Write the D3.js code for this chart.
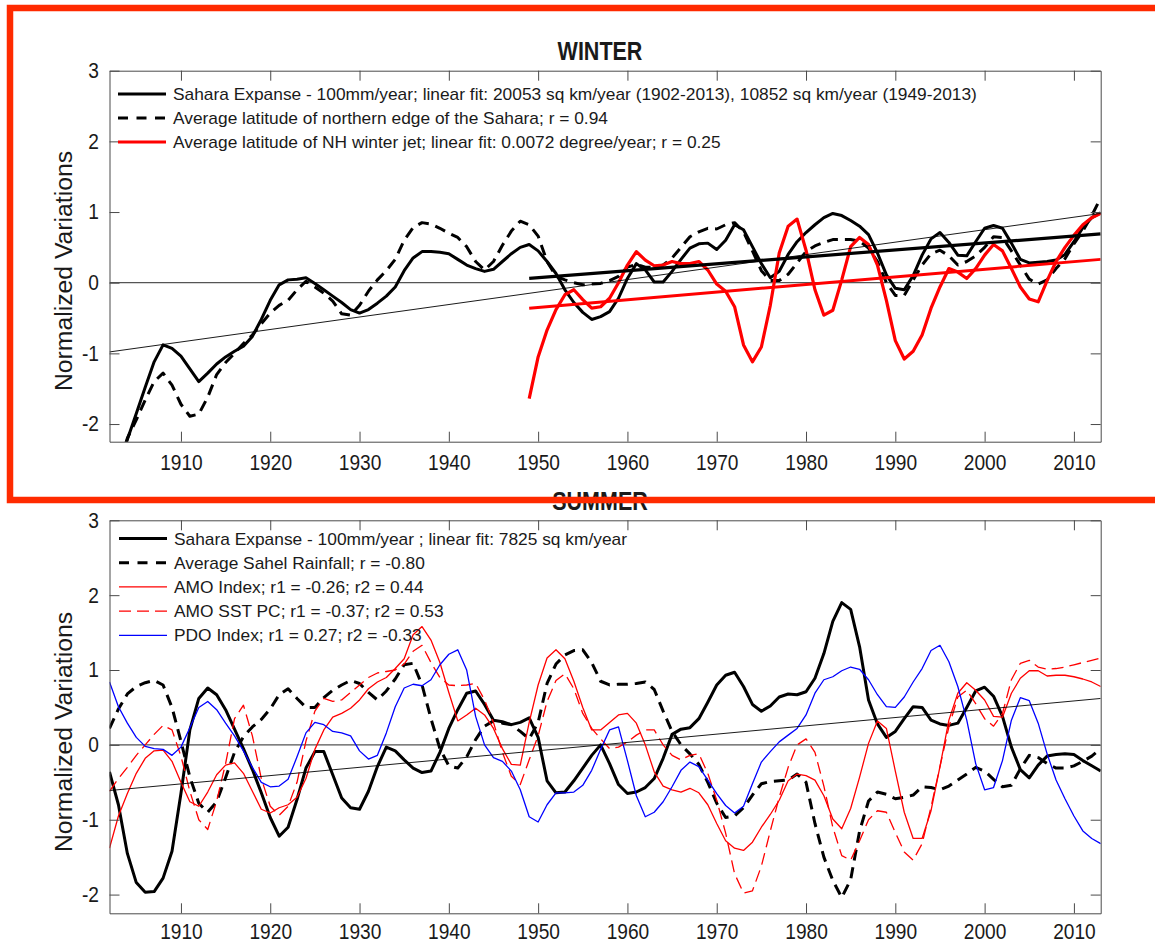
<!DOCTYPE html>
<html>
<head>
<meta charset="utf-8">
<script src="https://cdn.jsdelivr.net/npm/d3@7"></script>
<style>
  body { margin: 0; background: #fff; }
  svg text { font-family: "Liberation Sans", Arial, Helvetica, sans-serif; fill: #1a1a1a; }
</style>
</head>
<body>
<svg id="chart" width="1155" height="945"></svg>
<script>
// years 1902-2013, jet index only from 1949
const years = d3.range(1902, 2014);
const jetYears = d3.range(1949, 2014);
const xTicks = [1910, 1920, 1930, 1940, 1950, 1960, 1970, 1980, 1990, 2000, 2010];
const yTicks = [-2, -1, 0, 1, 2, 3];

// WINTER
const winterSahara = [
  -3.1, -2.65, -2.22, -1.85, -1.48, -1.12, -0.88, -0.93, -1.04, -1.22,
  -1.4, -1.28, -1.15, -1.05, -0.97, -0.9, -0.76, -0.52, -0.25, -0.03,
  0.04, 0.05, 0.07, -0.01, -0.1, -0.19, -0.28, -0.38, -0.43, -0.38,
  -0.29, -0.19, -0.06, 0.17, 0.35, 0.44, 0.44, 0.43, 0.41, 0.33,
  0.25, 0.2, 0.16, 0.19, 0.3, 0.41, 0.5, 0.54, 0.45, 0.3,
  0.13, -0.1, -0.28, -0.42, -0.52, -0.48, -0.41, -0.22, 0.06, 0.27,
  0.18, 0.01, 0.01, 0.16, 0.33, 0.49, 0.55, 0.56, 0.47, 0.6,
  0.82, 0.75, 0.51, 0.27, 0.07, 0.16, 0.4, 0.58, 0.71, 0.82,
  0.92, 0.98, 0.95, 0.88, 0.8, 0.68, 0.42, 0.11, -0.08, -0.1,
  0.1, 0.39, 0.62, 0.71, 0.57, 0.39, 0.38, 0.58, 0.77, 0.81,
  0.77, 0.56, 0.33, 0.28, 0.29, 0.3, 0.32, 0.4, 0.58, 0.78,
  0.92, 0.99
];
const winterEdge = [
  -3.0, -2.6, -2.2, -1.94, -1.66, -1.4, -1.28, -1.45, -1.72, -1.89,
  -1.86, -1.62, -1.3, -1.13, -1.0, -0.86, -0.74, -0.58, -0.43, -0.32,
  -0.25, -0.1, 0.02, -0.06, -0.15, -0.26, -0.44, -0.46, -0.32, -0.12,
  0.04, 0.17, 0.33, 0.6, 0.78, 0.85, 0.83, 0.77, 0.7, 0.64,
  0.51, 0.3, 0.18, 0.3, 0.53, 0.73, 0.87, 0.82, 0.66, 0.3,
  0.09, 0.04, 0.0, -0.03, -0.02, -0.01, 0.03, 0.09, 0.22, 0.26,
  0.22, 0.22, 0.25, 0.35, 0.5, 0.65, 0.72, 0.77, 0.76, 0.82,
  0.85, 0.72, 0.45, 0.17, 0.03, 0.03, 0.12, 0.28, 0.44, 0.52,
  0.57, 0.61, 0.61, 0.61, 0.59, 0.49, 0.3, 0.0, -0.18, -0.18,
  0.04, 0.25, 0.41, 0.46, 0.38, 0.25, 0.3, 0.38, 0.5, 0.65,
  0.64, 0.45, 0.25, 0.05, -0.02, 0.04, 0.2, 0.34, 0.55, 0.73,
  0.95, 1.2
];
const winterJet = [
  -1.64, -1.05, -0.67, -0.38, -0.17, -0.1, -0.24, -0.36, -0.34, -0.22,
  0.0, 0.25, 0.44, 0.32, 0.24, 0.25, 0.3, 0.27, 0.27, 0.3,
  0.18, -0.02, -0.12, -0.34, -0.88, -1.12, -0.91, -0.32, 0.42, 0.8,
  0.9, 0.46, -0.1, -0.46, -0.39, 0.04, 0.51, 0.64, 0.54, 0.25,
  -0.25, -0.82, -1.08, -0.97, -0.74, -0.36, -0.06, 0.2, 0.15, 0.06,
  0.2, 0.39, 0.54, 0.45, 0.2, -0.06, -0.23, -0.27, 0.03, 0.3,
  0.5, 0.67, 0.82, 0.92, 0.98
];
const winterFitFull = [[1902, -0.98], [2013, 0.98]];
const winterFitRecent = [[1949, 0.06], [2013, 0.69]];
const winterJetFit = [[1949, -0.36], [2013, 0.33]];
const winterLegend = [
  "Sahara Expanse - 100mm/year; linear fit: 20053 sq km/year (1902-2013), 10852 sq km/year (1949-2013)",
  "Average latitude of northern edge of the Sahara; r = 0.94",
  "Average latitude of NH winter jet; linear fit: 0.0072 degree/year; r = 0.25"
];

// SUMMER
const summerSahara = [
  -0.36, -0.8, -1.45, -1.84, -1.97, -1.96, -1.78, -1.42, -0.65, 0.2,
  0.62, 0.76, 0.67, 0.47, 0.21, -0.05, -0.33, -0.64, -0.97, -1.22,
  -1.1, -0.73, -0.31, -0.09, -0.09, -0.4, -0.71, -0.84, -0.86, -0.62,
  -0.29, -0.03, -0.08, -0.2, -0.31, -0.37, -0.35, -0.1, 0.22, 0.47,
  0.69, 0.72, 0.54, 0.33, 0.31, 0.27, 0.3, 0.36, 0.1, -0.48,
  -0.64, -0.63, -0.48, -0.31, -0.14, 0.0, -0.25, -0.53, -0.65, -0.63,
  -0.57, -0.45, -0.18, 0.14, 0.21, 0.23, 0.35, 0.57, 0.8, 0.93,
  0.97, 0.78, 0.54, 0.45, 0.52, 0.64, 0.68, 0.67, 0.71, 0.89,
  1.22, 1.65, 1.9, 1.81, 1.31, 0.6, 0.28, 0.1, 0.18, 0.35,
  0.51, 0.5, 0.33, 0.28, 0.26, 0.29, 0.5, 0.72, 0.77, 0.65,
  0.38, -0.03, -0.33, -0.44, -0.27, -0.15, -0.13, -0.12, -0.13, -0.21,
  -0.28, -0.35
];
const summerSahel = [
  0.22, 0.48, 0.68, 0.78, 0.83, 0.86, 0.8, 0.5, 0.05, -0.43,
  -0.78, -0.9, -0.76, -0.44, -0.1, 0.11, 0.24, 0.34, 0.48, 0.67,
  0.75, 0.62, 0.5, 0.5, 0.63, 0.73, 0.8, 0.86, 0.82, 0.7,
  0.6, 0.72, 0.88, 1.07, 1.09, 0.8, 0.35, -0.05, -0.28, -0.31,
  -0.16, 0.07, 0.25, 0.32, 0.29, 0.27, 0.18, 0.08, 0.3, 0.82,
  1.08, 1.2, 1.26, 1.27, 1.1, 0.85, 0.8, 0.81, 0.81, 0.82,
  0.84, 0.74, 0.45, 0.18, 0.0, -0.12, -0.26, -0.5, -0.78, -0.97,
  -0.95, -0.84, -0.67, -0.52, -0.49, -0.48, -0.47, -0.39, -0.5, -1.05,
  -1.5, -1.81, -2.04, -1.8, -1.15, -0.75, -0.63, -0.66, -0.72, -0.7,
  -0.67, -0.56, -0.57, -0.6, -0.55, -0.47, -0.39, -0.3, -0.35, -0.46,
  -0.56, -0.54, -0.32, -0.14, -0.17, -0.25, -0.31, -0.31, -0.28, -0.22,
  -0.15, -0.05
];
const summerAMO = [
  -1.38, -0.95, -0.65, -0.38, -0.18, -0.08, -0.07, -0.22, -0.5, -0.76,
  -0.82, -0.63, -0.4, -0.27, -0.24, -0.38, -0.62, -0.86, -0.91, -0.84,
  -0.8, -0.7, -0.45, -0.06, 0.2, 0.37, 0.42, 0.49, 0.6, 0.75,
  0.84, 0.9, 1.02, 1.15, 1.47, 1.58, 1.4, 1.1, 0.7, 0.32,
  0.4, 0.49, 0.4, 0.22, -0.05, -0.26, -0.27, 0.3, 0.8, 1.16,
  1.27, 1.15, 0.85, 0.5, 0.2, 0.2, 0.3, 0.4, 0.42, 0.29,
  0.0, -0.36, -0.55, -0.6, -0.63, -0.58, -0.64, -0.8, -1.05, -1.28,
  -1.38, -1.41, -1.3, -1.1, -0.93, -0.74, -0.48, -0.39, -0.41, -0.47,
  -0.68, -0.99, -1.12, -0.85, -0.43, 0.02, 0.32, 0.22, -0.35, -0.9,
  -1.25, -1.25, -0.88, -0.29, 0.33, 0.69, 0.83, 0.73, 0.6, 0.38,
  0.37, 0.69, 0.89, 0.99, 0.99, 0.92, 0.93, 0.93, 0.91, 0.88,
  0.84, 0.78
];
const summerAMOSST = [
  -0.62, -0.45, -0.3, -0.14, 0.0, 0.14, 0.26, 0.2, -0.15, -0.62,
  -1.0, -1.13, -0.75, -0.25, 0.35, 0.53, 0.12, -0.45, -0.82, -0.94,
  -0.82, -0.5, 0.05, 0.45, 0.62, 0.58, 0.6, 0.7, 0.8, 0.9,
  0.96, 0.98, 1.0, 1.08, 1.25, 1.33, 1.1, 0.9, 0.8, 0.79,
  0.8, 0.82, 0.6, 0.3, -0.1, -0.42, -0.53, -0.2, 0.12, 0.58,
  0.86, 0.95, 0.75, 0.42, 0.22, 0.08, -0.05, -0.03, 0.04, 0.13,
  0.2, 0.2, 0.0, -0.14, -0.2, -0.14, -0.12, -0.38, -0.74, -1.18,
  -1.72, -1.98, -1.95, -1.62, -1.15, -0.7, -0.3, 0.0, 0.08, -0.1,
  -0.55, -1.1, -1.48, -1.54, -1.28, -1.0, -0.88, -0.9, -1.17, -1.43,
  -1.54, -1.32, -0.83, -0.29, 0.24, 0.64, 0.73, 0.55, 0.35, 0.25,
  0.42, 0.87, 1.09, 1.13, 1.04, 1.01, 1.02, 1.04, 1.07, 1.1,
  1.13, 1.16
];
const summerPDO = [
  0.84, 0.51, 0.29, 0.1, -0.02, -0.05, -0.06, -0.14, -0.03, 0.23,
  0.5, 0.58, 0.47, 0.29, 0.12, -0.08, -0.3, -0.5, -0.56, -0.55,
  -0.46, -0.16, 0.16, 0.3, 0.27, 0.18, 0.16, 0.12, -0.08, -0.19,
  -0.14, 0.16, 0.51, 0.76, 0.81, 0.79, 0.87, 1.07, 1.21, 1.27,
  1.0, 0.38, 0.0, -0.17, -0.22, -0.35, -0.6, -0.96, -1.03, -0.8,
  -0.64, -0.64, -0.63, -0.54, -0.34, -0.06, 0.2, 0.24, -0.21, -0.68,
  -0.96, -0.9, -0.76, -0.56, -0.34, -0.23, -0.29, -0.47, -0.65, -0.81,
  -0.91, -0.82, -0.52, -0.23, -0.09, 0.04, 0.13, 0.22, 0.4, 0.69,
  0.87, 0.91, 0.99, 1.04, 1.01, 0.87, 0.67, 0.51, 0.5, 0.64,
  0.84, 1.02, 1.26, 1.33, 1.11, 0.78, 0.33, -0.25, -0.6, -0.57,
  -0.21, 0.33, 0.63, 0.59, 0.29, -0.12, -0.47, -0.72, -0.95, -1.15,
  -1.25, -1.32
];
const summerFit = [[1902, -0.61], [2013, 0.62]];
const summerLegend = [
  "Sahara Expanse - 100mm/year ; linear fit: 7825 sq km/year",
  "Average Sahel Rainfall; r = -0.80",
  "AMO Index; r1 = -0.26; r2 = 0.44",
  "AMO SST PC; r1 = -0.37; r2 = 0.53",
  "PDO Index; r1 = 0.27; r2 = -0.33"
];

const width = 1155;
const height = 945;
const plotLeft = 109.5;
const plotRight = 1100.7;
const svg = d3.select("#chart");
const x = d3.scaleLinear().domain([1902, 2013]).range([plotLeft, plotRight]);

const thickDash = "11,7";
const thinDash = "12,6";

// the reference font is narrower than Liberation Sans, squeeze text horizontally
function condense(sel, k) {
  sel.each(function () {
    const len = this.getComputedTextLength();
    d3.select(this).attr("textLength", len * k).attr("lengthAdjust", "spacingAndGlyphs");
  });
}

function toPoints(xs, ys) {
  return xs.map((yr, i) => [yr, ys[i]]);
}

function drawPanel(cfg) {
  const y = d3.scaleLinear().domain([-2.25, 3]).range([cfg.bottom, cfg.top]);
  const g = svg.append("g");
  const clipId = `clip-${cfg.id}`;

  g.append("clipPath").attr("id", clipId)
    .append("rect")
    .attr("x", plotLeft)
    .attr("y", cfg.top)
    .attr("width", plotRight - plotLeft)
    .attr("height", cfg.bottom - cfg.top);

  const line = d3.line().x(d => x(d[0])).y(d => y(d[1]));
  const plot = g.append("g").attr("clip-path", `url(#${clipId})`);

  // zero line
  plot.append("path")
    .attr("d", line([[1902, 0], [2013, 0]]))
    .attr("fill", "none")
    .attr("stroke", "#555")
    .attr("stroke-width", 1.3);

  cfg.series.forEach(s => {
    plot.append("path")
      .attr("d", line(s.points))
      .attr("fill", "none")
      .attr("stroke", s.color)
      .attr("stroke-width", s.width)
      .attr("stroke-dasharray", s.dash || null)
      .attr("stroke-linejoin", "round");
  });

  // axes box with inward ticks on all sides
  const axisColor = "#4a4a4a";
  const bottomAxis = g.append("g")
    .attr("transform", `translate(0,${cfg.bottom})`)
    .call(d3.axisBottom(x).tickValues(xTicks).tickFormat(d => String(d))
      .tickSizeInner(-10).tickSizeOuter(0).tickPadding(cfg.xPad));
  g.append("g")
    .attr("transform", `translate(0,${cfg.top})`)
    .call(d3.axisTop(x).tickValues(xTicks).tickFormat("")
      .tickSizeInner(-10).tickSizeOuter(0));
  const leftAxis = g.append("g")
    .attr("transform", `translate(${plotLeft},0)`)
    .call(d3.axisLeft(y).tickValues(yTicks).tickFormat(d => String(d))
      .tickSizeInner(-10).tickSizeOuter(0).tickPadding(10.5));
  g.append("g")
    .attr("transform", `translate(${plotRight},0)`)
    .call(d3.axisRight(y).tickValues(yTicks).tickFormat("")
      .tickSizeInner(-10).tickSizeOuter(0));

  g.selectAll(".domain, .tick line").attr("stroke", axisColor).attr("stroke-width", 1);
  g.selectAll(".tick text")
    .attr("font-family", null)
    .attr("fill", "#1a1a1a")
    .style("font-size", "21.5px");
  condense(bottomAxis.selectAll(".tick text"), 0.89);
  condense(leftAxis.selectAll(".tick text"), 0.89);

  // title
  const title = g.append("text")
    .attr("x", 600)
    .attr("y", cfg.titleY)
    .attr("text-anchor", "middle")
    .style("font-size", "25px")
    .style("font-weight", "bold")
    .text(cfg.title);
  condense(title, 0.86);

  // y label
  g.append("text")
    .attr("transform", `translate(72,${cfg.labelCenter}) rotate(-90)`)
    .attr("text-anchor", "middle")
    .attr("textLength", 240)
    .attr("lengthAdjust", "spacingAndGlyphs")
    .style("font-size", "23px")
    .text("Normalized Variations");

  // legend, no box
  const legend = g.append("g");
  cfg.legend.forEach((label, i) => {
    const s = cfg.series[i];
    const ry = cfg.legendTop + i * cfg.legendStep;
    legend.append("line")
      .attr("x1", cfg.legendX).attr("x2", cfg.legendX + 48)
      .attr("y1", ry).attr("y2", ry)
      .attr("stroke", s.color)
      .attr("stroke-width", s.width)
      .attr("stroke-dasharray", s.legendDash || s.dash || null);
    legend.append("text")
      .attr("x", cfg.legendX + 55)
      .attr("y", ry + 6)
      .style("font-size", "17px")
      .text(label);
  });
  condense(legend.selectAll("text"), cfg.legendK);
}

drawPanel({
  id: "winter",
  top: 70.7,
  bottom: 441.7,
  xPad: 13,
  title: "WINTER",
  titleY: 60,
  labelCenter: 271,
  legendX: 118,
  legendTop: 94,
  legendStep: 24,
  legendK: 1.02,
  legend: winterLegend,
  series: [
    { points: toPoints(years, winterSahara), color: "#000", width: 3 },
    { points: toPoints(years, winterEdge), color: "#000", width: 3, dash: thickDash, legendDash: "10,8.5" },
    { points: toPoints(jetYears, winterJet), color: "#ff0000", width: 3.2 },
    { points: winterFitFull, color: "#000", width: 0.9 },
    { points: winterFitRecent, color: "#000", width: 3.2 },
    { points: winterJetFit, color: "#ff0000", width: 3 }
  ]
});

drawPanel({
  id: "summer",
  top: 520.3,
  bottom: 913.3,
  xPad: 10,
  title: "SUMMER",
  titleY: 509.5,
  labelCenter: 732,
  legendX: 119,
  legendTop: 538.5,
  legendStep: 24.2,
  legendK: 1.02,
  legend: summerLegend,
  series: [
    { points: toPoints(years, summerSahara), color: "#000", width: 3 },
    { points: toPoints(years, summerSahel), color: "#000", width: 3, dash: thickDash, legendDash: "10,8.5" },
    { points: toPoints(years, summerAMO), color: "#ff0000", width: 1.3 },
    { points: toPoints(years, summerAMOSST), color: "#ff0000", width: 1.3, dash: thinDash },
    { points: toPoints(years, summerPDO), color: "#0000ff", width: 1.3 },
    { points: summerFit, color: "#000", width: 0.9 }
  ]
});

// red highlight frame around the winter panel (runs off the right edge)
svg.append("rect")
  .attr("x", 10)
  .attr("y", 8)
  .attr("width", 1170)
  .attr("height", 492)
  .attr("fill", "none")
  .attr("stroke", "#ff2a00")
  .attr("stroke-width", 6.5);
</script>
</body>
</html>
